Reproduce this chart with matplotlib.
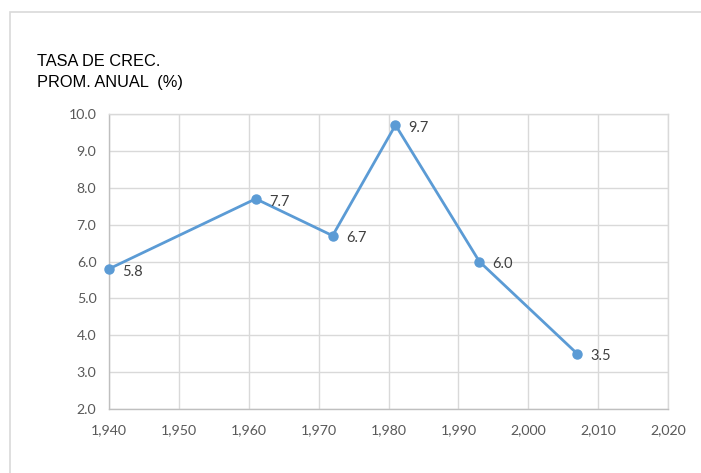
import matplotlib
matplotlib.use("Agg")
import matplotlib.pyplot as plt
from matplotlib.patches import Rectangle
from matplotlib.ticker import FuncFormatter, MultipleLocator

years = [1940, 1961, 1972, 1981, 1993, 2007]
growth = [5.8, 7.7, 6.7, 9.7, 6.0, 3.5]
title_lines = ["TASA DE CREC.", "PROM. ANUAL  (%)"]

W, H = 701, 473
fig = plt.figure(figsize=(W / 100, H / 100), dpi=100)
fig.patch.set_facecolor("white")

# outer chart frame (open to the right and bottom)
fig.patches.append(Rectangle((10 / W, -0.1), 1.2, 1 - 12.5 / H + 0.1,
                             transform=fig.transFigure, fill=False,
                             edgecolor="#D9D9D9", linewidth=1.2))

ax = fig.add_axes([109 / W, (H - 409) / H, (668 - 109) / W, (409 - 114) / H])
grid_c = "#D9D9D9"
ax.set_xlim(1940, 2020)
ax.set_ylim(2.0, 10.0)
ax.xaxis.set_major_locator(MultipleLocator(10))
ax.yaxis.set_major_locator(MultipleLocator(1))
ax.xaxis.set_major_formatter(FuncFormatter(lambda v, p: f"{int(round(v)):,}"))
ax.yaxis.set_major_formatter(FuncFormatter(lambda v, p: f"{v:.1f}"))
ax.grid(True, color=grid_c, linewidth=1.0)
ax.set_axisbelow(True)
for s in ax.spines.values():
    s.set_color(grid_c)
    s.set_linewidth(1.0)
ax.spines["left"].set_color("#BFBFBF")
ax.spines["bottom"].set_color("#BFBFBF")
ax.tick_params(length=0, labelsize=10.2, labelcolor="#595959")
ax.tick_params(axis="y", pad=9)
ax.tick_params(axis="x", pad=11)
for lab in ax.get_xticklabels() + ax.get_yticklabels():
    lab.set_fontfamily("Lato")

ax.plot(years, growth, color="#5B9BD5", linewidth=2.0, marker="o",
        markersize=6.5, clip_on=False, zorder=3)
for x, y in zip(years, growth):
    ax.annotate(f"{y:.1f}", (x, y), xytext=(9.5, -2), textcoords="offset points",
                ha="left", va="center", fontsize=10.5, color="#404040",
                family="Lato")

fig.text(37 / W, 1 - 62 / H, title_lines[0], ha="left", va="center",
         fontsize=11.8, family="Liberation Sans", color="black")
fig.text(37 / W, 1 - 83 / H, title_lines[1], ha="left", va="center",
         fontsize=11.8, family="Liberation Sans", color="black")

fig.savefig("out.png", dpi=100)
